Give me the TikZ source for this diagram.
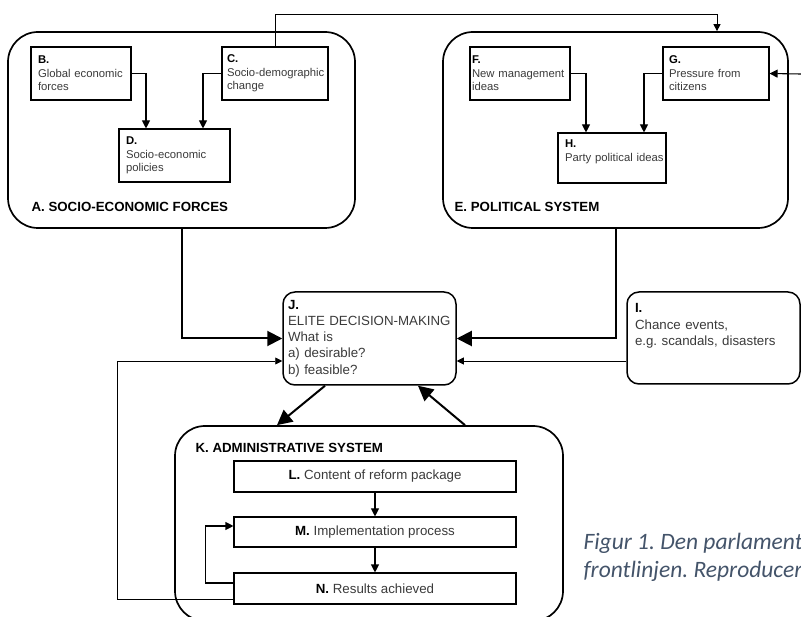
\documentclass[tikz,border=0pt]{standalone}
\usepackage{fontspec}
\setmainfont{Liberation Sans}
\newfontfamily\capfont{Carlito}
\usetikzlibrary{arrows.meta}
\definecolor{txtgray}{HTML}{3A3A3A}
\definecolor{capblue}{HTML}{44546A}
\newcommand{\dropstrut}[1]{\rule[-#1]{0pt}{#1}}
\frenchspacing

\tikzset{
  grp/.style={draw, line width=1.7pt, rounded corners=30pt, inner sep=0pt},
  sbox/.style={draw, line width=1.1pt, inner xsep=5pt, align=left, text=txtgray,
    font=\fontsize{11.3}{13.5}\selectfont},
  pbox/.style={draw, line width=1.1pt, minimum width=282pt, text=txtgray,
    font=\fontsize{13.3}{16}\selectfont},
  rbox/.style={draw, line width=1.5pt, rounded corners=12pt, align=left, text=txtgray,
    font=\fontsize{13.3}{16.3}\selectfont},
  hd/.style={anchor=base west, font=\fontsize{13.3}{16}\selectfont\bfseries},
  conn/.style={line width=1.1pt, -{Triangle[length=8pt,width=8pt]}},
  thinconn/.style={line width=0.8pt, -{Triangle[length=7pt,width=7pt]}},
  bigconn/.style={line width=2pt, -{Triangle[length=15pt,width=15pt]}},
}

\begin{document}
\begin{tikzpicture}[x=1pt,y=-1pt]
  \useasboundingbox (0,0) rectangle (801,617);
  \clip (0,0) rectangle (801,617);

  % the three big systems
  \node[grp, minimum width=347pt, minimum height=196pt] (A) at (181.5,130) {};
  \node[grp, minimum width=345pt, minimum height=196pt] (E) at (615.5,130) {};
  \node[grp, minimum width=388pt, minimum height=195pt] (K) at (369,523.5) {};
  \node[hd] (Alab) at (28,212) {A. SOCIO-ECONOMIC FORCES};
  \node[hd] (Elab) at (451,212) {E. POLITICAL SYSTEM};
  \node[hd] (Klab) at (192,453) {K. ADMINISTRATIVE SYSTEM};

  % socio-economic forces
  \node[sbox, inner xsep=7pt, text width=86pt, minimum height=53pt] (B) at (81,73.5)
    {\textcolor{black}{\textbf{B.}}\\Global economic\\forces};
  \node[sbox, text width=96pt, minimum height=53pt] (C) at (275,73.5)
    {\textcolor{black}{\textbf{C.}}\\\mbox{Socio-demographic}\\change};
  \node[sbox, inner xsep=7pt, text width=97pt, minimum height=53pt] (D) at (174.5,155.5)
    {\textcolor{black}{\textbf{D.}}\\Socio-economic\\policies};
  \draw[conn] (B.east) -| ([xshift=-28.5pt]D.north);
  \draw[conn] (C.west) -| ([xshift=28.5pt]D.north);

  % political system
  \node[sbox, inner xsep=2pt, text width=96pt, minimum height=53pt] (F) at (520,73.5)
    {\textcolor{black}{\textbf{F.}}\\\mbox{New management}\\ideas};
  \node[sbox, inner xsep=6pt, text width=94pt, minimum height=53pt] (G) at (716,73.5)
    {\textcolor{black}{\textbf{G.}}\\Pressure from\\citizens};
  \node[sbox, inner xsep=7pt, text width=94pt, minimum height=50pt] (H) at (612,158)
    {\textcolor{black}{\textbf{H.}}\\\mbox{Party political ideas}\dropstrut{15pt}};
  \draw[conn] (F.east) -| ([xshift=-26pt]H.north);
  \draw[conn] (G.west) -| ([xshift=32pt]H.north);
  \coordinate (gin) at (801,74);
  \draw[conn] (gin) -- (G.east);

  \coordinate (topbend) at (717,14);
  \draw[thinconn] (C.north) |- (topbend) -- (topbend |- E.north);

  % decision making
  \node[rbox, text width=163pt, inner xsep=5pt, minimum height=93pt] (J) at (369.5,338.5)
    {\textcolor{black}{\textbf{J.}}\\ELITE DECISION-MAKING\\What is\\a) desirable?\\b) feasible?};
  \node[rbox, text width=157pt, inner xsep=8pt, minimum height=92pt] (I) at (713.5,338)
    {\textcolor{black}{\textbf{I.}}\\Chance events,\\e.g. scandals, disasters\dropstrut{27pt}};
  \draw[bigconn] (A.south) |- (J.west);
  \draw[bigconn] (E.south) |- (J.east);
  \draw[thinconn] ([yshift=-23pt]I.west) -- ([yshift=-23pt]I.west -| J.east);

  % administrative system
  \node[pbox, minimum height=31pt] (L) at (375,476.5) {\textcolor{black}{\textbf{L.}} Content of reform package};
  \node[pbox, minimum height=30pt] (M) at (375,532) {\textcolor{black}{\textbf{M.}} Implementation process};
  \node[pbox, minimum height=31pt] (N) at (375,588.5) {\textcolor{black}{\textbf{N.}} Results achieved};
  \draw[conn] (L) -- (M);
  \draw[conn] (M) -- (N);
  \draw[conn] ([yshift=5.5pt]N.west) -- ++(-28,0) |- ([yshift=6pt]M.west);
  \coordinate (fb) at (117,361);
  \draw[thinconn] ([yshift=-10.5pt]N.west) -| (fb) -- (fb -| J.west);

  \draw[bigconn] ([xshift=-44.5pt]J.south) -- ([xshift=-92pt]K.north);
  \draw[bigconn] ([xshift=96pt]K.north) -- ([xshift=48.5pt]J.south);

  % caption, cut off at the edge
  \node[anchor=base west, align=left, text=capblue, font=\capfont\itshape\fontsize{23.5}{28}\selectfont]
    (cap) at (580,577) {Figur 1. Den parlament\\frontlinjen. Reproducer};
\end{tikzpicture}
\end{document}
